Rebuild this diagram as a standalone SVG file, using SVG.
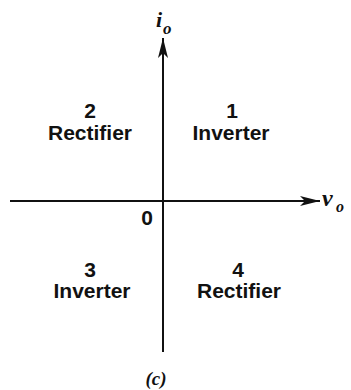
<svg xmlns="http://www.w3.org/2000/svg" width="351" height="390" viewBox="0 0 351 390">
<style>
.lbl{font-family:"Liberation Sans",Arial,sans-serif;font-weight:bold;font-size:21px;fill:#111;text-anchor:middle}
.var{font-family:"Liberation Serif","Times New Roman",serif;font-style:italic;font-weight:bold;fill:#111}
.axis{stroke:#111;stroke-width:2;fill:none}
</style>
<defs>
<marker id="ah" viewBox="0 0 20 10" refX="20" refY="5" markerWidth="20" markerHeight="10" markerUnits="userSpaceOnUse" orient="auto">
<path d="M0,0 L20,5 L0,10 L5,5 Z" fill="#111"/>
</marker>
</defs>
<g id="connectors">
<line class="axis" x1="163" y1="352" x2="163" y2="38" marker-end="url(#ah)"/>
<line class="axis" x1="10" y1="201" x2="320" y2="201" marker-end="url(#ah)"/>
</g>
<g id="axis-i"><text class="var" x="156" y="27" font-size="22">i</text><text class="var" x="163" y="34" font-size="17">o</text></g>
<g id="axis-v"><text class="var" x="322" y="206" font-size="24">v</text><text class="var" x="336" y="212" font-size="16">o</text></g>
<g id="origin"><text class="lbl" x="147" y="225" font-size="23">0</text></g>
<g id="q1"><text class="lbl" x="232" y="118">1</text><text class="lbl" x="231" y="140">Inverter</text></g>
<g id="q2"><text class="lbl" x="90" y="118">2</text><text class="lbl" x="90" y="140">Rectifier</text></g>
<g id="q3"><text class="lbl" x="90" y="277">3</text><text class="lbl" x="92" y="298">Inverter</text></g>
<g id="q4"><text class="lbl" x="238" y="277">4</text><text class="lbl" x="239" y="298">Rectifier</text></g>
<g id="caption"><text class="var" x="156" y="385" font-size="19" text-anchor="middle">(c)</text></g>
</svg>
